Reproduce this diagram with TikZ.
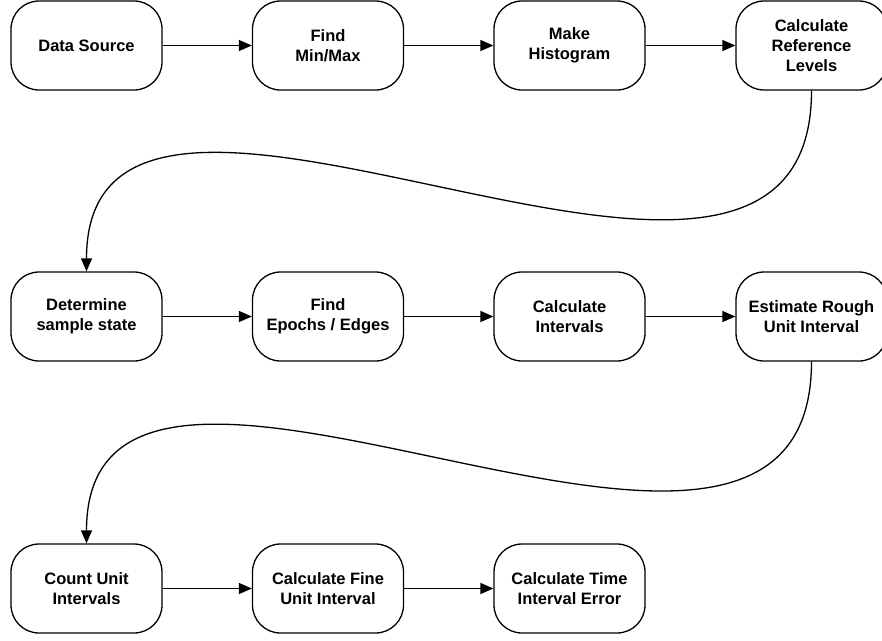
\documentclass[tikz,border=0pt]{standalone}
\usepackage{fontspec}
\setmainfont{Liberation Sans}
\usetikzlibrary{arrows.meta}
\begin{document}
\begin{tikzpicture}[x=1pt,y=-1pt,
  stage/.style={draw=black, line width=1.3pt, rounded corners=28pt,
    minimum width=151pt, minimum height=89pt, inner sep=0pt, align=center,
    font=\fontsize{16.5}{20}\selectfont\bfseries},
  flow/.style={draw=black, line width=1.3pt, -{Triangle[length=13pt,width=11pt]}}]
\useasboundingbox (0,0) rectangle (882,640);
% first row
\node[stage] (src)  at (86.5,45.5)  {Data Source};
\node[stage] (mm)   at (328,45.5)   {Find\\Min/Max};
\node[stage] (hist) at (569.5,45.5) {Make\\Histogram};
\node[stage] (ref)  at (811.5,45.5) {Calculate\\Reference\\Levels};
% second row
\node[stage] (state) at (86.5,316.5)  {Determine\\sample state};
\node[stage] (edges) at (328,316.5)   {Find\\Epochs / Edges};
\node[stage] (ints)  at (569.5,316.5) {Calculate\\Intervals};
\node[stage] (rough) at (811.5,316.5) {Estimate Rough\\Unit Interval};
% third row
\node[stage] (count) at (86.5,588.5)  {Count Unit\\Intervals};
\node[stage] (fine)  at (328,588.5)   {Calculate Fine\\Unit Interval};
\node[stage] (tie)   at (569.5,588.5) {Calculate Time\\Interval Error};
% straight links within rows
\draw[flow] (src) -- (mm);
\draw[flow] (mm) -- (hist);
\draw[flow] (hist) -- (ref);
\draw[flow] (state) -- (edges);
\draw[flow] (edges) -- (ints);
\draw[flow] (ints) -- (rough);
\draw[flow] (count) -- (fine);
\draw[flow] (fine) -- (tie);
% wrap-around links between rows
\draw[flow] (ref.south) .. controls +(0,340) and +(0,-315) .. (state.north);
\draw[flow] (rough.south) .. controls +(0,340) and +(0,-315) .. (count.north);
\end{tikzpicture}
\end{document}
